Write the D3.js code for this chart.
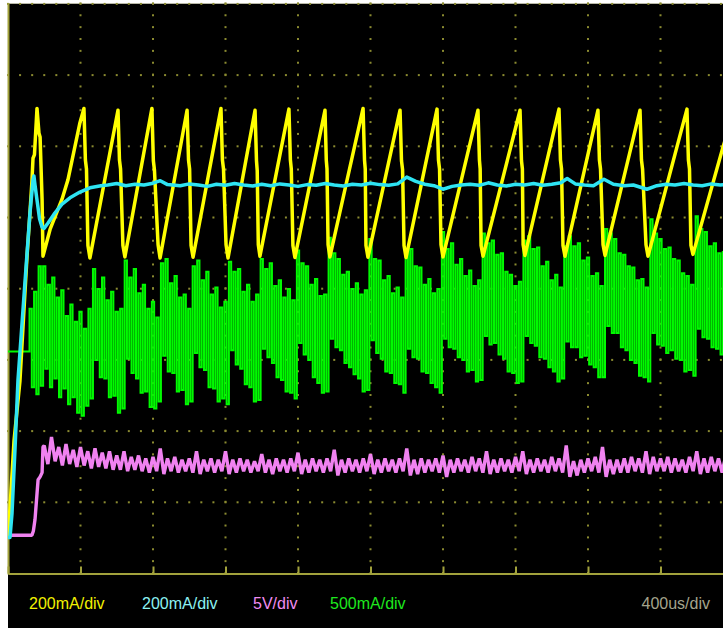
<!DOCTYPE html>
<html>
<head>
<meta charset="utf-8">
<script src="https://cdn.jsdelivr.net/npm/d3@7"></script>
<style>
  body { margin: 0; background: #ffffff; }
  svg { display: block; }
</style>
</head>
<body>
<div id="scope"></div>
<script>
// time base: 400us/div, 10 divisions
var timeTicks = [0, 400, 800, 1200, 1600, 2000, 2400, 2800, 3200, 3600, 4000];

// channel labels shown under the screen
var channelLabels = ["200mA/div", "200mA/div", "5V/div", "500mA/div"];
var timebaseLabel = "400us/div";

// CH1 (yellow) inductor current, mA, vertices of the sawtooth
var yellowT = [0, 6, 33, 66, 105, 121, 132, 138, 146, 160, 171, 177, 188, 193,
  232, 298, 331, 397, 419, 427, 433, 441, 452,
  607, 615, 621, 634, 645,
  794, 802, 808, 828, 839,
  988, 996, 1002, 1010, 1021,
  1175, 1183, 1189, 1203, 1214,
  1363, 1371, 1375, 1381, 1390,
  1550, 1558, 1563, 1572, 1583,
  1749, 1756, 1760, 1766, 1776,
  1959, 1967, 1971, 1975, 1986,
  2163, 2171, 2177, 2185, 2196,
  2367, 2375, 2381, 2389, 2400,
  2593, 2601, 2605, 2610, 2621,
  2825, 2833, 2838, 2842, 2852,
  3040, 3048, 3054, 3062, 3073,
  3255, 3263, 3269, 3283, 3294,
  3487, 3495, 3501, 3520, 3531,
  3746, 3754, 3760, 3768, 3779,
  3945, 4000];
var yellowI = [0, 40, 270, 440, 790, 910, 1000, 1065, 1075, 1205, 1135, 1125, 950, 790,
  865, 950, 1005, 1165, 1205, 1060, 1035, 820, 785,
  1200, 1060, 1035, 820, 788,
  1205, 1058, 1032, 822, 785,
  1200, 1060, 1035, 820, 787,
  1205, 1060, 1035, 822, 785,
  1200, 1058, 1030, 822, 790,
  1203, 1060, 1035, 820, 786,
  1200, 1060, 1035, 822, 788,
  1205, 1060, 1035, 820, 787,
  1200, 1058, 1033, 820, 786,
  1203, 1060, 1035, 822, 788,
  1200, 1060, 1035, 820, 790,
  1200, 1058, 1035, 822, 792,
  1203, 1060, 1035, 820, 790,
  1200, 1060, 1035, 822, 792,
  1200, 1060, 1035, 822, 790,
  1203, 1060, 1035, 820, 795,
  1097, 1190];

// CH2 (cyan) output current, mA
var cyanT = [0, 11, 22, 39, 55, 94, 121, 138, 143, 149, 160, 174, 188, 199, 221, 254, 298, 342, 397, 452, 513,
  550, 600, 650, 700, 750, 800, 840, 880,
  950, 1000, 1050, 1100, 1150, 1200, 1250, 1300, 1350, 1400, 1450, 1500, 1550, 1600, 1650, 1700, 1750,
  1800, 1850, 1900, 1950, 2000, 2050, 2100, 2150, 2200, 2250, 2300, 2350, 2400, 2450, 2500, 2550,
  2600, 2650, 2700, 2750, 2800, 2850, 2900, 2950, 3000, 3050,
  3085, 3130, 3180, 3230, 3288, 3340, 3400, 3450, 3525, 3580, 3630, 3680, 3730, 3780, 3830, 3880, 3930, 4000];
var cyanI = [0, 0, 67, 253, 441, 720, 910, 1004, 1015, 990, 948, 895, 871, 868, 883, 908, 936, 954, 970, 982, 988,
  990, 994, 988, 992, 990, 995, 1002, 991,
  988, 993, 990, 986, 992, 989, 994, 990, 987, 992, 988, 993, 990, 986, 991, 989, 994,
  990, 987, 992, 990, 995, 991, 989, 993, 1012, 1000, 992, 988, 978, 986, 990, 992,
  989, 996, 990, 987, 992, 990, 994, 989, 992, 996,
  1008, 993, 990, 988, 1006, 992, 988, 990, 978, 988, 992, 990, 994, 990, 988, 993, 990, 992];

// CH3 (magenta) output voltage, V: start-up edge, then max/min per 40us sample
var magRiseT = [0, 132, 140, 149, 166, 177, 188, 193];
var magRiseV = [0, 0, 0.3, 1.1, 3.9, 4.1, 4.4, 6.2];
var magStart = 200, magStep = 40;
var magHi = [
  6.3, 6.9, 6.2, 6.4, 6.0, 6.2, 5.9, 6.1, 5.8, 5.9,
  5.6, 5.9, 5.5, 5.6, 5.4, 5.5, 6.1, 5.4, 5.5, 5.3,
  5.4, 5.9, 5.3, 5.4, 5.3, 5.9, 5.3, 5.4, 5.3, 5.2,
  5.7, 5.3, 5.4, 5.3, 5.4, 5.8, 5.3, 5.4, 5.3, 5.4,
  6.0, 5.3, 5.4, 5.3, 5.4, 5.7, 5.3, 5.4, 5.3, 5.4,
  6.1, 5.3, 5.4, 5.3, 5.4, 5.6, 5.3, 5.4, 5.3, 5.5,
  5.4, 5.9, 5.3, 5.4, 5.3, 5.5, 5.9, 5.3, 5.4, 5.3,
  5.5, 5.4, 6.3, 5.2, 5.3, 5.4, 5.5, 6.2, 5.3, 5.3,
  5.4, 5.5, 5.4, 5.9, 5.5, 5.4, 5.5, 5.4, 5.3, 5.5,
  5.9, 5.4, 5.5, 5.4, 5.6];
var magLo = [
  5.0, 5.2, 4.9, 5.0, 4.8, 4.9, 4.7, 4.8, 4.7, 4.6,
  4.6, 4.5, 4.6, 4.5, 4.4, 4.5, 4.3, 4.5, 4.4, 4.5,
  4.4, 4.3, 4.5, 4.4, 4.5, 4.3, 4.4, 4.5, 4.4, 4.5,
  4.4, 4.3, 4.5, 4.4, 4.5, 4.3, 4.4, 4.5, 4.4, 4.5,
  4.2, 4.4, 4.5, 4.4, 4.5, 4.3, 4.4, 4.5, 4.4, 4.5,
  4.2, 4.3, 4.4, 4.5, 4.4, 4.1, 4.4, 4.5, 4.4, 4.5,
  4.4, 4.3, 4.4, 4.5, 4.4, 4.5, 4.3, 4.4, 4.5, 4.4,
  4.5, 4.4, 4.1, 4.2, 4.4, 4.5, 4.4, 4.1, 4.3, 4.4,
  4.4, 4.5, 4.4, 4.3, 4.5, 4.5, 4.4, 4.5, 4.4, 4.5,
  4.3, 4.4, 4.5, 4.4, 4.5];

// CH4 (green) switch current, mA: max/min per 25us sample
var greenStart = 0, greenStep = 25;
var greenHi = [
  0, 0, 0, 0, 0,
  300, 420, 600,
  600, 470, 520, 380, 430, 250, 330, 210, 280, 160, 300,
  580, 440, 520, 360, 420, 280, 300,
  640, 520, 580, 410, 470, 300, 350, 240,
  620, 650, 480, 530, 380, 400, 300,
  600, 640, 500, 560, 400, 450, 310, 350,
  630, 560, 580, 420, 470, 350, 400,
  650, 580, 620, 460, 500, 380, 440, 360,
  710, 620, 600, 470, 510, 390, 400,
  800, 690, 650, 540, 560, 440, 480, 400, 430,
  790, 650, 640, 500, 530, 410, 450, 380,
  690, 720, 600, 590, 470, 510, 410, 440,
  840, 720, 760, 610, 650, 530, 570, 460, 500,
  830, 760, 780, 680, 690, 560, 540, 460, 490,
  780, 810, 720, 730, 600, 630, 500, 540, 450,
  740, 810, 740, 760, 640, 660, 530, 550, 460,
  860, 830, 790, 690, 680, 600, 590, 500, 510, 450,
  930, 830, 790, 720, 730, 650, 640, 550, 530, 470,
  950, 860, 840, 740, 760, 690, 700];
var greenLo = [
  0, 0, 0, 0, 0,
  -250, -300, -240,
  -120, -250, -190, -320, -260, -370, -320, -430, -450, -380, -330,
  -60, -180, -190, -320, -310, -430, -400,
  -50, -150, -190, -290, -280, -390, -400, -350,
  -30, -140, -150, -280, -270, -370, -350,
  -10, -110, -130, -250, -260, -350, -330, -370,
  10, -90, -120, -230, -250, -350, -340,
  20, -40, -80, -180, -200, -280, -290, -330,
  60, -20, -60, -180, -220, -290, -280,
  90, 30, 10, -80, -110, -160, -190, -280, -270,
  80, -10, -50, -140, -150, -220, -230, -290,
  20, -40, -50, -140, -150, -220, -250, -290,
  90, 30, 20, -40, -60, -140, -130, -210, -200,
  110, 50, 60, -20, -50, -140, -150, -220, -210,
  110, 60, 40, -40, -50, -110, -140, -210, -190,
  70, 30, 30, -40, -30, -90, -110, -180, -180,
  180, 130, 130, 30, 10, -60, -80, -170, -180, -210,
  130, 50, 40, -10, 10, -50, -60, -140, -130, -170,
  160, 100, 90, 30, 20, -20, -10];

var W = 723, H = 628;
var screen = {left: 8, top: 3.4, right: 733, bottom: 573};
var gridColor = "#8a8a30";

var x = d3.scaleLinear().domain([0, 4000]).range([screen.left, screen.right]);
var yDiv = d3.scaleLinear().domain([0, 8]).range([screen.bottom, screen.top]);

// one scale per channel: offset in divisions, units per division
function chScale(offset, perDiv) {
  return d3.scaleLinear().domain([0, perDiv]).range([yDiv(offset), yDiv(offset + 1)]);
}
var yYellow = chScale(0.5, 200),
    yCyan = chScale(0.5, 200),
    yMag = chScale(0.53, 5),
    yGreen = chScale(3.11, 500);

// alternate max and min samples so the trace looks like the scope's envelope
function zigzag(t0, step, hi, lo) {
  var pts = [];
  hi.forEach(function(h, i) {
    pts.push([t0 + i * step, h]);
    pts.push([t0 + i * step + step / 2, lo[i]]);
  });
  return pts;
}

var svg = d3.select("#scope").append("svg")
  .attr("width", W)
  .attr("height", H);

svg.append("rect")
  .attr("x", screen.left)
  .attr("y", 3)
  .attr("width", W - screen.left)
  .attr("height", H - 3)
  .attr("fill", "#000");

// top edge
svg.append("line")
  .attr("x1", screen.left).attr("x2", W)
  .attr("y1", 3.5).attr("y2", 3.5)
  .attr("stroke", "#b8b8a8").attr("stroke-width", 1);

// dotted graticule, six dots per division
var grid = svg.append("g").attr("fill", gridColor);
var hDots = d3.range(0, 60.5).map(function(k) { return k / 6; });
var vDots = d3.range(0, 48.5).map(function(k) { return k / 6; });
d3.range(1, 9).forEach(function(j) {
  grid.selectAll(null)
    .data(hDots)
    .enter().append("rect")
    .attr("x", function(d) { return x(d * 400) - 1; })
    .attr("y", yDiv(j) - 0.5)
    .attr("width", 2).attr("height", 2);
});
d3.range(1, 11).forEach(function(i) {
  grid.selectAll(null)
    .data(vDots)
    .enter().append("rect")
    .attr("x", x(i * 400) - 1)
    .attr("y", function(d) { return yDiv(d) - 1; })
    .attr("width", 2).attr("height", 2);
});

// bottom axis with major ticks
var xAxis = d3.axisBottom(x)
  .tickValues(timeTicks)
  .tickSizeInner(-7)
  .tickSizeOuter(0)
  .tickFormat("");
var axisG = svg.append("g")
  .attr("transform", "translate(0," + (screen.bottom + 0.5) + ")")
  .call(xAxis);
axisG.select(".domain").attr("stroke", "#a2a23c").attr("stroke-width", 2);
axisG.selectAll(".tick line").attr("stroke", "#a2a23c").attr("stroke-width", 2);

// left edge
svg.append("line")
  .attr("x1", screen.left + 0.5).attr("x2", screen.left + 0.5)
  .attr("y1", 3).attr("y2", screen.bottom + 1.5)
  .attr("stroke", "#a2a23c").attr("stroke-width", 2);

svg.append("clipPath").attr("id", "clip")
  .append("rect")
  .attr("x", screen.left).attr("y", 3)
  .attr("width", W - screen.left).attr("height", screen.bottom - 2);

var traces = svg.append("g").attr("clip-path", "url(#clip)");

// CH4 green, drawn as sample-and-hold bars
var greenLine = d3.line()
  .curve(d3.curveStep)
  .x(function(d) { return x(d[0]); })
  .y(function(d) { return yGreen(d[1]); });
traces.append("path")
  .datum(zigzag(greenStart, greenStep, greenHi, greenLo))
  .attr("d", greenLine)
  .attr("fill", "none")
  .attr("stroke", "#00fa00")
  .attr("stroke-width", 2);

// CH3 magenta
var magPts = magRiseT.map(function(t, i) { return [t, magRiseV[i]]; })
  .concat(zigzag(magStart, magStep, magHi, magLo));
traces.append("path")
  .datum(magPts)
  .attr("d", d3.line()
    .x(function(d) { return x(d[0]); })
    .y(function(d) { return yMag(d[1]); }))
  .attr("fill", "none")
  .attr("stroke", "#f082f0")
  .attr("stroke-width", 3.4)
  .attr("stroke-linejoin", "bevel");

// CH1 yellow
traces.append("path")
  .datum(yellowT.map(function(t, i) { return [t, yellowI[i]]; }))
  .attr("d", d3.line()
    .x(function(d) { return x(d[0]); })
    .y(function(d) { return yYellow(d[1]); }))
  .attr("fill", "none")
  .attr("stroke", "#ffff00")
  .attr("stroke-width", 3.5)
  .attr("stroke-linejoin", "round");

// CH2 cyan
traces.append("path")
  .datum(cyanT.map(function(t, i) { return [t, cyanI[i]]; }))
  .attr("d", d3.line()
    .x(function(d) { return x(d[0]); })
    .y(function(d) { return yCyan(d[1]); }))
  .attr("fill", "none")
  .attr("stroke", "#2ee4f2")
  .attr("stroke-width", 3.5)
  .attr("stroke-linejoin", "round");

// readout line under the screen
var labelX = [29, 142, 253, 330];
var labelColors = ["#f2f200", "#8cf2f2", "#f08cf0", "#1ee81e"];
svg.selectAll(".chlabel")
  .data(channelLabels)
  .enter().append("text")
  .attr("class", "chlabel")
  .attr("x", function(d, i) { return labelX[i]; })
  .attr("y", 609)
  .attr("fill", function(d, i) { return labelColors[i]; })
  .style("font-family", "'Liberation Sans', Arial, sans-serif")
  .style("font-size", "16px")
  .text(function(d) { return d; });

svg.append("text")
  .attr("x", 710)
  .attr("y", 609)
  .attr("text-anchor", "end")
  .attr("fill", "#a4a48c")
  .style("font-family", "'Liberation Sans', Arial, sans-serif")
  .style("font-size", "16px")
  .text(timebaseLabel);
</script>
</body>
</html>
